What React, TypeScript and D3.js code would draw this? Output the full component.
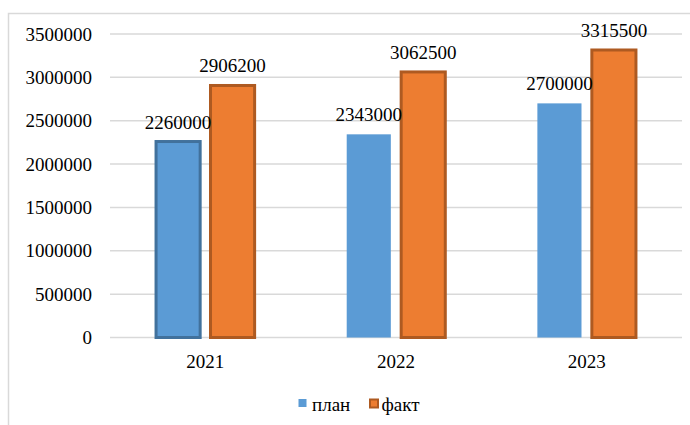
import React from "react";
import * as d3 from "d3";

const categories = ["2021", "2022", "2023"];
const seriesNames = ["план", "факт"];
const planValues = [2260000, 2343000, 2700000];
const factValues = [2906200, 3062500, 3315500];
const yTicks = [0, 500000, 1000000, 1500000, 2000000, 2500000, 3000000, 3500000];

const W = 690;
const H = 425;
const FONT = "Liberation Serif";
const colors = ["#5B9BD5", "#ED7D31"];
const borders = ["#41719C", "#AE5A21"];
const ts = { fontFamily: FONT, fontSize: "19px" } as React.CSSProperties;

export default function App() {
  const x0 = d3.scaleBand<string>().domain(categories).range([110, 682]).paddingInner(0.483).paddingOuter(0.2415);
  const x1 = d3.scaleBand<string>().domain(seriesNames).range([0, x0.bandwidth()]).paddingInner(0.19);
  const y = d3.scaleLinear().domain([0, 3500000]).range([337.5, 34]);

  const data = categories.map((c, i) => ({ c, vals: [planValues[i], factValues[i]] }));

  return (
    <svg width={W} height={H} style={{ position: "absolute", left: 0, top: 0, background: "#fff" }}>
      <rect x={0} y={0} width={W} height={H} fill="#fff" />
      <rect x={8.5} y={13.5} width={720} height={460} fill="none" stroke="#d9d9d9" strokeWidth={1.5} />
      {yTicks.map((t) => (
        <g key={t}>
          <line x1={110} x2={682} y1={y(t)} y2={y(t)} stroke="#d9d9d9" strokeWidth={1.5} />
          <text x={92} y={y(t) + 6.5} textAnchor="end" style={ts} fill="#000">
            {t}
          </text>
        </g>
      ))}
      {data.map((d, ci) => (
        <g key={d.c} transform={`translate(${x0(d.c)},0)`}>
          {d.vals.map((v, si) => {
            const bx = x1(seriesNames[si])!;
            const bw = x1.bandwidth();
            const hasBorder = si === 1 || ci === 0;
            return (
              <rect
                key={si}
                x={bx}
                y={y(v)}
                width={bw}
                height={y(0) - y(v)}
                fill={colors[si]}
                stroke={hasBorder ? borders[si] : "none"}
                strokeWidth={3}
              />
            );
          })}
          <text x={x0.bandwidth() / 2} y={368} textAnchor="middle" style={ts} fill="#000">
            {d.c}
          </text>
        </g>
      ))}
      {data.map((d) => (
        <g key={"l" + d.c} transform={`translate(${x0(d.c)},0)`}>
          {d.vals.map((v, si) => {
            const bx = x1(seriesNames[si])!;
            const bw = x1.bandwidth();
            return (
              <text key={si} x={bx + bw / 2} y={y(v) - 13} textAnchor="middle" style={ts} fill="#000">
                {v}
              </text>
            );
          })}
        </g>
      ))}
      <g>
        <rect x={298.5} y={399} width={8} height={8} fill={colors[0]} />
        <text x={312} y={411} style={ts} fill="#000">
          {seriesNames[0]}
        </text>
        <rect x={370} y={399.5} width={8} height={8} fill={colors[1]} stroke={borders[1]} strokeWidth={2} />
        <text x={381.5} y={411} style={ts} fill="#000">
          {seriesNames[1]}
        </text>
      </g>
    </svg>
  );
}
